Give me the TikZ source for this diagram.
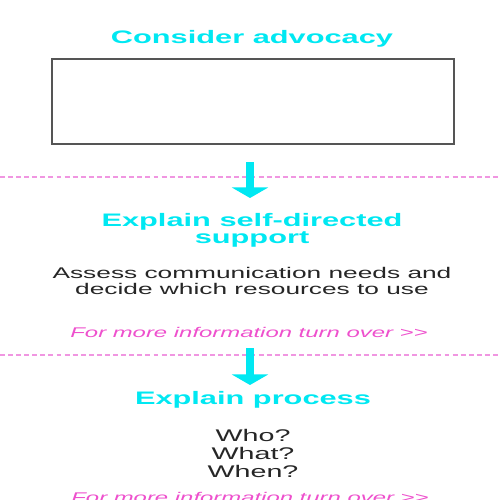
\documentclass[tikz,border=0pt]{standalone}
\usepackage{fontspec}
\setmainfont[FakeStretch=1.7]{Liberation Sans}
\usetikzlibrary{arrows.meta}
\definecolor{tcyan}{RGB}{0,232,242}
\definecolor{tpink}{RGB}{238,80,205}
\definecolor{dpink}{RGB}{240,150,225}
\definecolor{boxgray}{RGB}{85,85,85}
\tikzset{
  title/.style={text=tcyan, font=\fontsize{10.3}{9.2}\selectfont\bfseries, align=center, inner sep=0pt, anchor=base},
  body/.style={text=black!85, align=center, inner sep=0pt, anchor=north},
  more/.style={text=tpink, font=\fontsize{8}{9}\selectfont\itshape, inner sep=0pt, anchor=base},
  sep/.style={draw=dpink, line width=0.6pt, dash pattern=on 2.8pt off 1.8pt},
  arr/.style={draw=tcyan, line width=4pt, -{Triangle[width=20.5pt,length=6pt]}},
  panel/.style={draw=boxgray, line width=1.1pt, fill=white}
}
\begin{document}
\begin{tikzpicture}[x=0.02cm, y=-0.02cm]
\useasboundingbox (0,0) rectangle (500,500);
\clip (0,0) rectangle (500,500);
\fill[white] (0,0) rectangle (500,500);
% section 1
\node[title] (t1) at (252,44) {Consider advocacy};
\draw[panel] (52,59) rectangle (454,144);
\coordinate (box) at (252,144);
% separator 1
\coordinate (s1l) at (0,177);
\coordinate (s1r) at (500,177);
\draw[sep] (s1l) -- (s1r);
\coordinate (a1s) at (250,162);
\coordinate (a1e) at (250,198);
\draw[arr] (a1s) -- (a1e);
% section 2
\node[title] (t2) at (252,243) {Explain self-directed\\support};
\node[body, font=\fontsize{8.8}{9.1}\selectfont] (b2) at (252,267) {Assess communication needs and\\decide which resources to use};
\node[more] (m2) at (249,337) {For more information turn over >{}>};
% separator 2
\coordinate (s2l) at (0,355);
\coordinate (s2r) at (500,355);
\draw[sep] (s2l) -- (s2r);
\coordinate (a2s) at (250,348);
\coordinate (a2e) at (250,385);
\draw[arr] (a2s) -- (a2e);
% section 3
\node[title] (t3) at (253,404) {Explain process};
\node[body, font=\fontsize{9.6}{10.3}\selectfont] (b3) at (253,429) {Who?\\What?\\When?};
\node[more] (m3) at (250,502) {For more information turn over >{}>};
\end{tikzpicture}
\end{document}
